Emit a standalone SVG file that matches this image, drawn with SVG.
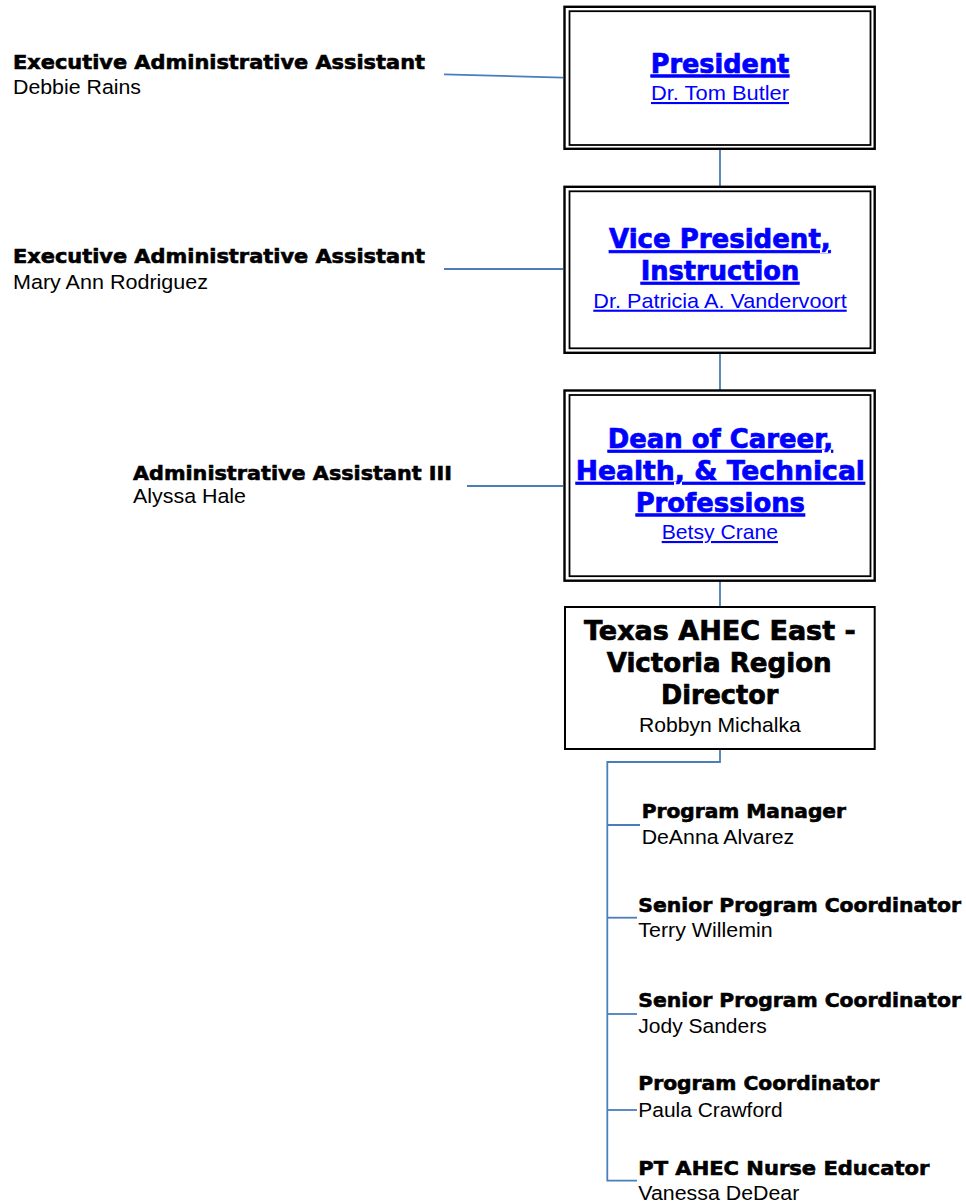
<svg xmlns="http://www.w3.org/2000/svg" width="966" height="1203" viewBox="0 0 966 1203">
<style>
.bg{fill:#ffffff}
.outer{fill:#ffffff;stroke:#000000;stroke-width:2.4}
.inner{fill:none;stroke:#000000;stroke-width:1.8}
.single{fill:#ffffff;stroke:#000000;stroke-width:2}
.conn{fill:none;stroke:#4a7ebb;stroke-width:1.8}
.hv{font-family:"DejaVu Sans","Liberation Sans",sans-serif;font-weight:bold}
.rg{font-family:"Liberation Sans",Arial,sans-serif}
.lt{font-size:19.5px;fill:#000000;stroke:#000000;stroke-width:0.6}
.ln{font-size:20.5px;fill:#000000}
.bt{font-size:26px;stroke-width:0.7}
.bn{font-size:21px}
.link{fill:#0000ff;text-decoration:underline}
.hv.link{stroke:#0000ff}
.blk{fill:#000000}
.hv.blk{stroke:#000000}
</style>
<rect class="bg" x="0" y="0" width="966" height="1203"/>
<g id="connectors">
<polyline class="conn" points="444,74.3 563,77.7"/>
<line class="conn" x1="444" y1="269" x2="563" y2="269"/>
<line class="conn" x1="467" y1="486" x2="563" y2="486"/>
<line class="conn" x1="720" y1="148.8" x2="720" y2="186.8"/>
<line class="conn" x1="720" y1="352.8" x2="720" y2="390.5"/>
<line class="conn" x1="720" y1="580.7" x2="720" y2="607"/>
<polyline class="conn" points="720,749 720,762 607.3,762 607.3,1180.7 637,1180.7"/>
<line class="conn" x1="607.3" y1="825" x2="640" y2="825"/>
<line class="conn" x1="607.3" y1="917.7" x2="637" y2="917.7"/>
<line class="conn" x1="607.3" y1="1014" x2="637" y2="1014"/>
<line class="conn" x1="607.3" y1="1110" x2="637" y2="1110"/>
</g>
<g id="president">
<rect class="outer" x="564.5" y="6.8" width="310.2" height="142"/>
<rect class="inner" x="569.5" y="11.2" width="301" height="133.8"/>
<text class="hv bt link" x="650.7" y="72.7" textLength="138.6" lengthAdjust="spacingAndGlyphs">President</text>
<text class="rg bn link" x="651" y="100" textLength="138" lengthAdjust="spacingAndGlyphs">Dr. Tom Butler</text>
</g>
<g id="vice-president">
<rect class="outer" x="564.5" y="186.8" width="310.2" height="166"/>
<rect class="inner" x="569.5" y="191.3" width="301" height="157"/>
<text class="hv bt link" x="609" y="248.3" textLength="221.7" lengthAdjust="spacingAndGlyphs">Vice President,</text>
<text class="hv bt link" x="640.7" y="280" textLength="158.6" lengthAdjust="spacingAndGlyphs">Instruction</text>
<text class="rg bn link" x="593.3" y="307.7" textLength="253.4" lengthAdjust="spacingAndGlyphs">Dr. Patricia A. Vandervoort</text>
</g>
<g id="dean">
<rect class="outer" x="564.5" y="390.5" width="310.2" height="190.2"/>
<rect class="inner" x="569.5" y="395" width="301" height="181.2"/>
<text class="hv bt link" x="607.7" y="448" textLength="225.3" lengthAdjust="spacingAndGlyphs">Dean of Career,</text>
<text class="hv bt link" x="575.7" y="480" textLength="289.3" lengthAdjust="spacingAndGlyphs">Health, &amp; Technical</text>
<text class="hv bt link" x="635.7" y="511.7" textLength="169.3" lengthAdjust="spacingAndGlyphs">Professions</text>
<text class="rg bn link" x="661.7" y="539" textLength="116.3" lengthAdjust="spacingAndGlyphs">Betsy Crane</text>
</g>
<g id="director">
<rect class="single" x="565" y="607" width="309.7" height="142"/>
<text class="hv bt blk" x="584" y="640" textLength="271.7" lengthAdjust="spacingAndGlyphs">Texas AHEC East -</text>
<text class="hv bt blk" x="606.7" y="671.7" textLength="225" lengthAdjust="spacingAndGlyphs">Victoria Region</text>
<text class="hv bt blk" x="661" y="704" textLength="117.3" lengthAdjust="spacingAndGlyphs">Director</text>
<text class="rg bn blk" x="639" y="731.7" textLength="161.7" lengthAdjust="spacingAndGlyphs">Robbyn Michalka</text>
</g>
<g id="exec-assistant-president">
<text class="hv lt" x="13" y="68.5" textLength="412" lengthAdjust="spacingAndGlyphs">Executive Administrative Assistant</text>
<text class="rg ln" x="13" y="94" textLength="128" lengthAdjust="spacingAndGlyphs">Debbie Rains</text>
</g>
<g id="exec-assistant-vp">
<text class="hv lt" x="13" y="262.5" textLength="412" lengthAdjust="spacingAndGlyphs">Executive Administrative Assistant</text>
<text class="rg ln" x="13" y="289" textLength="195" lengthAdjust="spacingAndGlyphs">Mary Ann Rodriguez</text>
</g>
<g id="admin-assistant-dean">
<text class="hv lt" x="133" y="480" textLength="319" lengthAdjust="spacingAndGlyphs">Administrative Assistant III</text>
<text class="rg ln" x="133" y="503" textLength="113" lengthAdjust="spacingAndGlyphs">Alyssa Hale</text>
</g>
<g id="program-manager">
<text class="hv lt" x="641.7" y="818.3" textLength="204.3" lengthAdjust="spacingAndGlyphs">Program Manager</text>
<text class="rg ln" x="641.7" y="844.3" textLength="152.5" lengthAdjust="spacingAndGlyphs">DeAnna Alvarez</text>
</g>
<g id="senior-coordinator-1">
<text class="hv lt" x="638.3" y="911.7" textLength="322.7" lengthAdjust="spacingAndGlyphs">Senior Program Coordinator</text>
<text class="rg ln" x="638.3" y="936.7" textLength="134.4" lengthAdjust="spacingAndGlyphs">Terry Willemin</text>
</g>
<g id="senior-coordinator-2">
<text class="hv lt" x="638.3" y="1006.7" textLength="322.7" lengthAdjust="spacingAndGlyphs">Senior Program Coordinator</text>
<text class="rg ln" x="638.3" y="1033" textLength="128.4" lengthAdjust="spacingAndGlyphs">Jody Sanders</text>
</g>
<g id="program-coordinator">
<text class="hv lt" x="638.3" y="1090" textLength="241" lengthAdjust="spacingAndGlyphs">Program Coordinator</text>
<text class="rg ln" x="638.3" y="1116.7" textLength="144.4" lengthAdjust="spacingAndGlyphs">Paula Crawford</text>
</g>
<g id="nurse-educator">
<text class="hv lt" x="638.3" y="1175" textLength="291" lengthAdjust="spacingAndGlyphs">PT AHEC Nurse Educator</text>
<text class="rg ln" x="638.3" y="1200" textLength="161" lengthAdjust="spacingAndGlyphs">Vanessa DeDear</text>
</g>
</svg>
